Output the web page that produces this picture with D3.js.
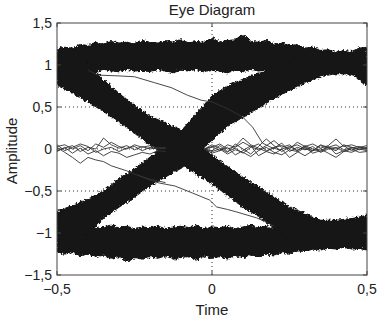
<!DOCTYPE html>
<html>
<head>
<meta charset="utf-8">
<script src="https://cdn.jsdelivr.net/npm/d3@7"></script>
<style>
body{margin:0;background:#fff;}
text{font-family:"Liberation Sans",Arial,sans-serif;fill:#222;}
</style>
</head>
<body>
<script>
// ---- values ----
// axis ticks
var xTicks = [-0.5, 0, 0.5];
var yTicks = [-1.5, -1, -0.5, 0, 0.5, 1, 1.5];

// the two rails (dense bundles at +1 and -1)
var railTime = [-0.5,-0.475,-0.45,-0.425,-0.4,-0.375,-0.35,-0.325,-0.3,-0.275,-0.25,-0.225,-0.2,-0.175,-0.15,-0.125,-0.1,-0.075,-0.05,-0.025,0,
                0.025,0.05,0.075,0.1,0.125,0.15,0.175,0.2,0.225,0.25,0.275,0.3,0.325,0.35,0.375,0.4,0.425,0.45,0.475,0.5];
var topOuter = [1.19,1.21,1.2,1.24,1.23,1.27,1.25,1.28,1.26,1.27,1.25,1.29,1.27,1.26,1.29,1.27,1.3,1.26,1.28,1.27,1.32,
                1.27,1.29,1.3,1.36,1.28,1.27,1.29,1.25,1.26,1.23,1.24,1.2,1.21,1.17,1.18,1.15,1.17,1.16,1.2,1.21];
var topInner = [0.9,0.92,0.93,0.91,0.94,0.92,0.95,0.93,0.92,0.95,0.93,0.94,0.92,0.95,0.93,0.91,0.94,0.93,0.95,0.92,0.94,
                0.93,0.91,0.94,0.92,0.95,0.93,0.94,0.92,0.95,0.93,0.94,0.92,0.93,0.95,0.92,0.94,0.93,0.92,0.9,0.9];
var botInner = [-0.91,-0.93,-0.92,-0.94,-0.92,-0.95,-0.93,-0.91,-0.94,-0.92,-0.95,-0.93,-0.94,-0.92,-0.95,-0.93,-0.92,-0.94,-0.91,-0.95,-0.93,
                -0.94,-0.92,-0.95,-0.93,-0.91,-0.94,-0.92,-0.95,-0.93,-0.94,-0.92,-0.93,-0.95,-0.92,-0.94,-0.93,-0.92,-0.94,-0.91,-0.9];
var botOuter = [-1.22,-1.25,-1.23,-1.27,-1.25,-1.28,-1.26,-1.3,-1.28,-1.34,-1.29,-1.31,-1.28,-1.3,-1.27,-1.31,-1.29,-1.28,-1.32,-1.27,-1.3,
                -1.28,-1.31,-1.27,-1.29,-1.26,-1.28,-1.25,-1.26,-1.23,-1.24,-1.21,-1.22,-1.19,-1.2,-1.18,-1.19,-1.17,-1.19,-1.18,-1.2];

// the two transition bundles (falling 1 -> -1, rising -1 -> 1); ends tucked into the rails
var edgeTime = [-0.5,-0.45,-0.4,-0.35,-0.3,-0.25,-0.2,-0.15,-0.1,-0.05,0,0.05,0.1,0.15,0.2,0.25,0.3,0.35,0.4,0.45,0.5];
var fallHigh = [1.05,1.05,1.02,0.82,0.66,0.52,0.39,0.31,0.23,0.09,-0.07,-0.21,-0.34,-0.45,-0.57,-0.69,-0.77,-0.85,-0.85,-0.83,-0.79];
var fallLow  = [0.76,0.67,0.56,0.45,0.32,0.19,0.05,-0.07,-0.18,-0.3,-0.41,-0.55,-0.69,-0.8,-0.94,-1.05,-1.05,-1.05,-1.05,-1.05,-1.05];
var riseHigh = [-0.75,-0.67,-0.6,-0.5,-0.36,-0.24,-0.1,0.05,0.21,0.42,0.63,0.75,0.83,0.9,0.94,1.05,1.05,1.05,1.05,1.05,1.05];
var riseLow  = [-1.05,-1.05,-1.02,-0.82,-0.69,-0.57,-0.44,-0.33,-0.23,-0.06,0.11,0.27,0.38,0.49,0.6,0.7,0.79,0.86,0.9,0.89,0.76];

// stray traces around zero, left of the crossing
var leftTime = [-0.5,-0.475,-0.45,-0.425,-0.4,-0.375,-0.35,-0.325,-0.3,-0.275,-0.25,-0.225,-0.2,-0.175,-0.15];
var left1 = [0.03,0.05,0.0,0.04,-0.02,0.06,0.02,0.08,0.03,0.0,0.05,0.02,0.04,0.01,0.02];
var left2 = [-0.02,0.01,0.04,-0.03,0.02,0.0,0.13,0.05,0.01,0.04,-0.01,0.03,0.0,0.02,0.0];
var left3 = [0.05,-0.02,0.02,0.06,0.03,-0.04,0.0,0.02,-0.03,0.01,0.03,-0.02,0.02,0.0,0.01];
var left4 = [0.02,-0.04,-0.1,-0.17,-0.1,-0.13,-0.15,-0.2,-0.23,-0.26,-0.3,-0.33,-0.36,-0.38,-0.4];
var left5 = [-0.03,0.02,-0.05,0.01,-0.06,-0.02,-0.08,-0.03,-0.05,-0.1,-0.07,-0.04,-0.06,-0.02,-0.03];

// stray traces around zero, right of the crossing
var rightTime = [-0.025,0,0.025,0.05,0.075,0.1,0.125,0.15,0.175,0.2,0.225,0.25,0.275,0.3,0.325,0.35,0.375,0.4,0.425,0.45,0.475,0.5];
var right1 = [0.0,0.03,-0.02,0.05,0.02,0.08,0.03,-0.01,0.04,0.1,0.02,0.05,-0.02,0.03,0.06,0.01,0.04,0.12,0.03,0.05,0.02,0.04];
var right2 = [0.0,-0.02,0.04,-0.03,0.01,-0.05,0.02,0.06,-0.02,0.01,0.07,-0.03,0.02,-0.01,0.03,-0.04,0.0,0.02,-0.03,0.01,0.03,0.0];
var right3 = [0.0,0.05,0.01,-0.04,0.06,0.0,-0.06,0.03,0.12,0.04,-0.03,0.02,0.05,0.0,-0.02,0.04,0.01,-0.02,0.05,0.02,-0.01,0.02];
var right4 = [0.0,-0.05,-0.02,0.02,-0.07,-0.02,0.04,-0.08,-0.03,-0.06,0.0,-0.1,-0.04,0.02,-0.05,-0.02,0.03,-0.06,-0.02,-0.04,0.0,-0.02];
var right5 = [0.0,0.02,0.06,0.0,0.03,0.13,0.05,0.01,-0.03,0.02,0.04,0.0,0.08,0.03,-0.02,0.05,0.02,0.0,0.04,-0.02,0.02,0.01];
var right6 = [0.0,-0.03,0.0,-0.06,-0.01,-0.04,-0.09,-0.02,0.02,-0.04,-0.07,-0.01,-0.03,-0.08,-0.02,0.0,-0.05,-0.1,-0.03,0.0,-0.04,-0.03];

// two slow traces: one sagging from +1 to 0, one from 0 down to -1
var slowDownTime = [-0.4,-0.37,-0.3,-0.25,-0.186,-0.131,-0.079,-0.034,0,0.05,0.099,0.131,0.163,0.19,0.218,0.25,0.275,0.3,0.325,0.35,0.375,0.4,0.425,0.45,0.475,0.5];
var slowDownVals = [0.94,0.88,0.87,0.86,0.79,0.73,0.64,0.58,0.56,0.48,0.38,0.26,0.07,0.02,-0.01,0.03,-0.02,0.04,0.0,-0.03,0.02,0.05,-0.01,0.02,0.0,0.01];
var sagTime = [-0.24,-0.2,-0.17,-0.12,-0.063,-0.008,0.015,0.05,0.08,0.144,0.176,0.2];
var sagVals = [-0.31,-0.37,-0.405,-0.44,-0.524,-0.607,-0.69,-0.72,-0.75,-0.82,-0.87,-0.92];

// ---- chart ----
var W = 391, H = 321;
var svg = d3.select("body").append("svg").attr("width", W).attr("height", H);

var x = d3.scaleLinear().domain([-0.5, 0.5]).range([57, 367]);
var y = d3.scaleLinear().domain([-1.5, 1.5]).range([275, 23]);

var fmt = d3.formatLocale({decimal: ",", thousands: ".", grouping: [3], currency: ["", ""], minus: "\u2212"}).format("~g");

var defs = svg.append("defs");
defs.append("clipPath").attr("id", "plotClip")
    .append("rect").attr("x", 57).attr("y", 23).attr("width", 310).attr("height", 252);
// roughen the bundle edges a little, like many noisy traces on top of each other
var filt = defs.append("filter").attr("id", "rough")
    .attr("x", "-5%").attr("y", "-5%").attr("width", "110%").attr("height", "110%");
filt.append("feTurbulence").attr("type", "fractalNoise").attr("baseFrequency", "0.45")
    .attr("numOctaves", 2).attr("seed", 4).attr("result", "noise");
filt.append("feDisplacementMap").attr("in", "SourceGraphic").attr("in2", "noise")
    .attr("scale", 5).attr("xChannelSelector", "R").attr("yChannelSelector", "G");

// grid (dotted, MATLAB style)
var grid = svg.append("g");
grid.selectAll("line.gy").data(yTicks.slice(1, -1)).enter().append("line")
    .attr("x1", x(-0.5)).attr("x2", x(0.5))
    .attr("y1", d => y(d)).attr("y2", d => y(d))
    .attr("stroke", "#333").attr("stroke-width", 1).attr("stroke-dasharray", "1,3");
grid.selectAll("line.gx").data(xTicks.slice(1, -1)).enter().append("line")
    .attr("x1", d => x(d)).attr("x2", d => x(d))
    .attr("y1", y(-1.5)).attr("y2", y(1.5))
    .attr("stroke", "#333").attr("stroke-width", 1).attr("stroke-dasharray", "1,3");

var plot = svg.append("g").attr("clip-path", "url(#plotClip)");
var bands = plot.append("g").attr("filter", "url(#rough)");

var area = d3.area().x(d => x(d.t)).y0(d => y(d.lo)).y1(d => y(d.hi));

function zipBand(ts, lo, hi) {
    return ts.map(function(t, i) { return {t: t, lo: lo[i], hi: hi[i]}; });
}

var bandData = [
    zipBand(railTime, topInner, topOuter),
    zipBand(railTime, botOuter, botInner),
    zipBand(edgeTime, fallLow, fallHigh),
    zipBand(edgeTime, riseLow, riseHigh)
];
bands.selectAll("path").data(bandData).enter().append("path")
    .attr("d", area)
    .attr("fill", "#131313")
    .attr("stroke", "#131313").attr("stroke-width", 1.2).attr("stroke-linejoin", "round");

// thin traces
var line = d3.line().x(d => x(d[0])).y(d => y(d[1]));
function zipLine(ts, vs) { return ts.map(function(t, i) { return [t, vs[i]]; }); }

var traces = [
    zipLine(leftTime, left1), zipLine(leftTime, left2), zipLine(leftTime, left3),
    zipLine(leftTime, left4), zipLine(leftTime, left5),
    zipLine(rightTime, right1), zipLine(rightTime, right2), zipLine(rightTime, right3),
    zipLine(rightTime, right4), zipLine(rightTime, right5), zipLine(rightTime, right6),
    zipLine(slowDownTime, slowDownVals), zipLine(sagTime, sagVals)
];
plot.append("g").selectAll("path").data(traces).enter().append("path")
    .attr("d", line)
    .attr("fill", "none").attr("stroke", "#333").attr("stroke-width", 0.9);

// frame and inward ticks
svg.append("rect").attr("x", 57).attr("y", 23).attr("width", 310).attr("height", 252)
    .attr("fill", "none").attr("stroke", "#444").attr("stroke-width", 1);

var ticks = svg.append("g").attr("stroke", "#444").attr("stroke-width", 1);
yTicks.forEach(function(v) {
    ticks.append("line").attr("x1", x(-0.5)).attr("x2", x(-0.5) + 4).attr("y1", y(v)).attr("y2", y(v));
    ticks.append("line").attr("x1", x(0.5)).attr("x2", x(0.5) - 4).attr("y1", y(v)).attr("y2", y(v));
});
xTicks.forEach(function(v) {
    ticks.append("line").attr("x1", x(v)).attr("x2", x(v)).attr("y1", y(-1.5)).attr("y2", y(-1.5) - 4);
    ticks.append("line").attr("x1", x(v)).attr("x2", x(v)).attr("y1", y(1.5)).attr("y2", y(1.5) + 4);
});

// tick labels
svg.append("g").selectAll("text").data(yTicks).enter().append("text")
    .attr("x", 52).attr("y", d => y(d) + 5)
    .attr("text-anchor", "end").attr("font-size", 14)
    .text(d => fmt(d));
svg.append("g").selectAll("text").data(xTicks).enter().append("text")
    .attr("x", d => x(d)).attr("y", 294)
    .attr("text-anchor", "middle").attr("font-size", 14)
    .text(d => fmt(d));

// titles
svg.append("text").attr("x", 212).attr("y", 15).attr("text-anchor", "middle")
    .attr("font-size", 15).text("Eye Diagram");
svg.append("text").attr("x", 212).attr("y", 315).attr("text-anchor", "middle")
    .attr("font-size", 15).text("Time");
svg.append("text").attr("transform", "translate(17,151) rotate(-90)").attr("text-anchor", "middle")
    .attr("font-size", 15).text("Amplitude");
</script>
</body>
</html>
